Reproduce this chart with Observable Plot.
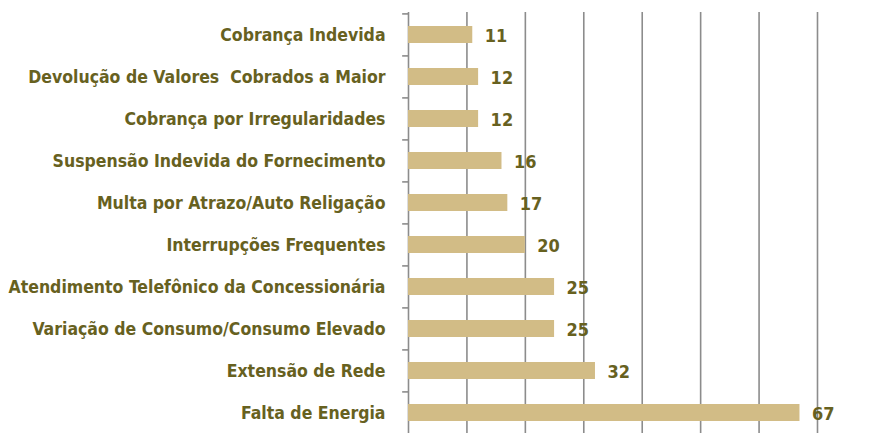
<!DOCTYPE html>
<html>
<head>
<meta charset="utf-8">
<script src="https://cdn.jsdelivr.net/npm/d3@7"></script>
<script src="https://cdn.jsdelivr.net/npm/@observablehq/plot@0.6"></script>
<style>
  html, body { margin: 0; padding: 0; background: #fff; }
  svg { display: block; }
</style>
</head>
<body>
<div id="chart"></div>
<script>
const categories = [
  "Cobrança Indevida",
  "Devolução de Valores  Cobrados a Maior",
  "Cobrança por Irregularidades",
  "Suspensão Indevida do Fornecimento",
  "Multa por Atrazo/Auto Religação",
  "Interrupções Frequentes",
  "Atendimento Telefônico da Concessionária",
  "Variação de Consumo/Consumo Elevado",
  "Extensão de Rede",
  "Falta de Energia"
];
const values = [11, 12, 12, 16, 17, 20, 25, 25, 32, 67];
const gridTicks = [10, 20, 30, 40, 50, 60, 70];

const data = categories.map((c, i) => ({category: c, value: values[i]}));
const textColor = "#67611F";
const barColor = "#D2BC86";
const gridColor = "#8C8C8C";
const font = "'DejaVu Sans Condensed', 'Liberation Sans Narrow', sans-serif";

const height = 433, marginTop = 12, marginBottom = -1;
const step = (height - marginTop - marginBottom) / categories.length;

const chart = Plot.plot({
  width: 869,
  height,
  marginLeft: 408,
  marginRight: 52,
  marginTop,
  marginBottom,
  style: {fontFamily: font, background: "#fff"},
  x: {domain: [0, 70], axis: null},
  y: {domain: categories, paddingInner: 0.6, paddingOuter: 0.3, axis: null},
  marks: [
    Plot.gridX(gridTicks, {stroke: gridColor, strokeOpacity: 1, strokeWidth: 1.6}),
    Plot.ruleY(categories, {y: d => d, x1: -1, x2: 0, dy: -step / 2, stroke: gridColor, strokeWidth: 1.6}),
    Plot.ruleX([0], {stroke: gridColor, strokeWidth: 1.6}),
    Plot.barX(data, {y: "category", x: "value", fill: barColor}),
    Plot.axisY({tickSize: 0, tickPadding: 23, fontSize: 17.5, fontWeight: "bold", fill: textColor, color: textColor, label: null}),
    Plot.text(data, {y: "category", x: "value", text: d => String(d.value), dx: 12, dy: 1, textAnchor: "start", fontSize: 18, fontWeight: "bold", fill: textColor})
  ]
});
document.getElementById("chart").appendChild(chart);
</script>
</body>
</html>
